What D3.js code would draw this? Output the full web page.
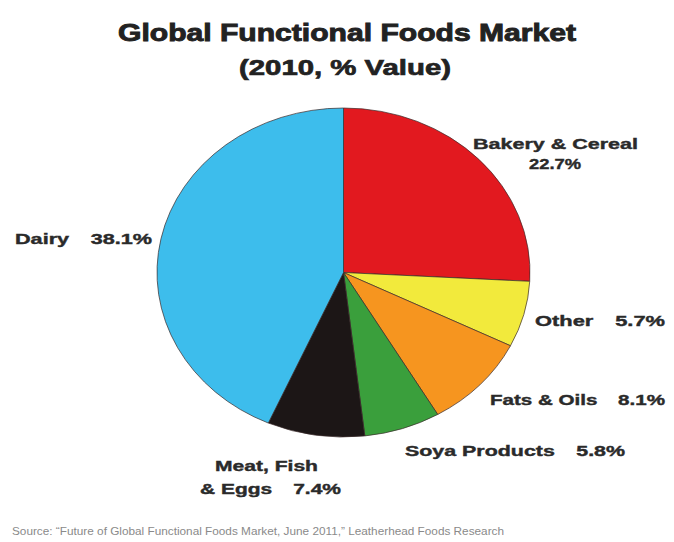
<!DOCTYPE html>
<html>
<head>
<meta charset="utf-8">
<script src="https://cdn.jsdelivr.net/npm/d3@7"></script>
<style>
  html, body { margin: 0; padding: 0; background: #fff; }
  svg { display: block; }
</style>
</head>
<body>
<svg id="chart" width="674" height="542"></svg>
<script>
// Market segments, clockwise from 12 o'clock
const categories = ["Bakery & Cereal", "Other", "Fats & Oils", "Soya Products", "Meat, Fish & Eggs", "Dairy"];
const shares = [22.7, 5.7, 8.1, 5.8, 7.4, 38.1];
const colors = ["#e2191f", "#f2ea3c", "#f6951f", "#3a9f3c", "#1c1616", "#3dbdec"];

const title = "Global Functional Foods Market";
const subtitle = "(2010, % Value)";
const source = "Source: \u201cFuture of Global Functional Foods Market, June 2011,\u201d Leatherhead Foods Research";

const svg = d3.select("#chart");
const W = 674, H = 542;

svg.append("rect").attr("width", W).attr("height", H).attr("fill", "#fff");

// Titles
svg.append("text")
  .attr("x", 347).attr("y", 41)
  .attr("text-anchor", "middle")
  .attr("font-family", "Liberation Sans, Arial, sans-serif")
  .attr("font-weight", 700).attr("font-size", 24)
  .attr("fill", "#222").attr("stroke", "#222").attr("stroke-width", 0.9)
  .attr("textLength", 458).attr("lengthAdjust", "spacingAndGlyphs")
  .text(title);

svg.append("text")
  .attr("x", 345).attr("y", 75)
  .attr("text-anchor", "middle")
  .attr("font-family", "Liberation Sans, Arial, sans-serif")
  .attr("font-weight", 700).attr("font-size", 22)
  .attr("fill", "#222").attr("stroke", "#222").attr("stroke-width", 0.7)
  .attr("textLength", 212).attr("lengthAdjust", "spacingAndGlyphs")
  .text(subtitle);

// Pie (drawn as a circle, then stretched horizontally into an ellipse)
const cx = 343.5, cy = 272.5, rx = 186.5, ry = 164.5;
const pie = d3.pie().sort(null).value(d => d)(shares);
const arc = d3.arc().innerRadius(0).outerRadius(ry);

const g = svg.append("g")
  .attr("transform", `translate(${cx},${cy}) scale(${rx / ry},1)`);

g.selectAll("path")
  .data(pie)
  .join("path")
  .attr("d", arc)
  .attr("fill", (d, i) => colors[i])
  .attr("stroke", "#3a2a2a")
  .attr("stroke-width", 0.7)
  .attr("vector-effect", "non-scaling-stroke");

// Slice labels
const fmt = v => d3.format(".1f")(v) + "%";
const labelStyle = sel => sel
  .attr("font-family", "Liberation Sans, Arial, sans-serif")
  .attr("font-weight", 700).attr("font-size", 15)
  .attr("fill", "#2a2a2a").attr("stroke", "#2a2a2a").attr("stroke-width", 0.4)
  .attr("lengthAdjust", "spacingAndGlyphs");

const labels = [
  { lines: [[categories[0], 473, 149, 165, "start"], [fmt(shares[0]), 555, 169, 52, "middle"]] },
  { lines: [[categories[1] + "\u2003" + fmt(shares[1]), 535, 326, 130, "start"]] },
  { lines: [[categories[2] + "\u2003" + fmt(shares[2]), 490, 405, 175, "start"]] },
  { lines: [[categories[3] + "\u2003" + fmt(shares[3]), 405, 456, 220, "start"]] },
  { lines: [["Meat, Fish", 215, 471, 103, "start"], ["& Eggs\u2003" + fmt(shares[4]), 200, 494, 141, "start"]] },
  { lines: [[categories[5] + "\u2003" + fmt(shares[5]), 15, 244, 137, "start"]] }
];

labels.forEach(l => {
  l.lines.forEach(([t, x, y, len, anchor]) => {
    svg.append("text")
      .attr("x", x).attr("y", y)
      .attr("text-anchor", anchor)
      .attr("textLength", len)
      .call(labelStyle)
      .text(t);
  });
});

// Source note
svg.append("text")
  .attr("x", 12).attr("y", 535)
  .attr("font-family", "Liberation Sans, Arial, sans-serif")
  .attr("font-size", 11)
  .attr("fill", "#8a8a8a")
  .attr("textLength", 492).attr("lengthAdjust", "spacingAndGlyphs")
  .text(source);
</script>
</body>
</html>
